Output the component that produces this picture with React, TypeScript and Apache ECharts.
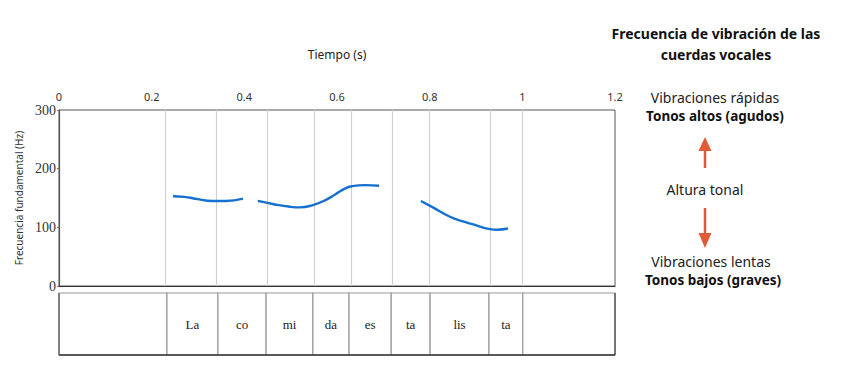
import React, { useEffect, useRef } from "react";
import * as echarts from "echarts";

// Time (s) of the syllable boundaries and syllables between them
const boundaries = [0.233, 0.343, 0.447, 0.548, 0.626, 0.717, 0.801, 0.928, 1.001];
const syllables = ["La", "co", "mi", "da", "es", "ta", "lis", "ta"];

// Fundamental frequency contour (time s, Hz), three voiced stretches
const contour1: [number, number][] = [
  [0.246, 153], [0.27, 152], [0.30, 148], [0.33, 145], [0.36, 145], [0.397, 149],
];
const contour2: [number, number][] = [
  [0.429, 145], [0.466, 139], [0.499, 135], [0.52, 134], [0.548, 138], [0.574, 146],
  [0.596, 156], [0.617, 166], [0.632, 170], [0.66, 172], [0.691, 171],
];
const contour3: [number, number][] = [
  [0.781, 145], [0.807, 134], [0.844, 118], [0.872, 110], [0.894, 105], [0.93, 97],
  [0.945, 96], [0.969, 98],
];

const xTicks = { min: 0, max: 1.2, interval: 0.2 };
const yTicks = { min: 0, max: 300, interval: 100 };

const SANS = "Noto Sans";
const SERIF = "Liberation Serif";

export default function App() {
  const ref = useRef<HTMLDivElement>(null);

  useEffect(() => {
    if (!ref.current) return;
    const chart = echarts.init(ref.current, null, { renderer: "svg" });

    const edges = [xTicks.min, ...boundaries, xTicks.max];
    const segments = edges.slice(0, -1).map((s, i) => [s, edges[i + 1], i === 0 || i > syllables.length ? "" : syllables[i - 1]]);

    const lineStyle = { color: "#1670d0", width: 2.4 };
    const mkLine = (data: [number, number][], withMarks: boolean) => ({
      type: "line",
      data,
      smooth: true,
      showSymbol: false,
      lineStyle,
      xAxisIndex: 0,
      yAxisIndex: 0,
      z: 5,
      markLine: withMarks
        ? {
            silent: true,
            symbol: ["none", "none"],
            label: { show: false },
            lineStyle: { color: "#cfcfcf", width: 1.2, type: "solid" },
            data: boundaries.map((b) => ({ xAxis: b })),
          }
        : undefined,
    });

    const txt = (x: number, y: number, text: string, bold: boolean, size = 14) => ({
      type: "text",
      x,
      y,
      style: {
        text,
        align: "center",
        verticalAlign: "middle",
        font: `${bold ? "bold " : ""}${size}px '${SANS}'`,
        fill: bold ? "#111" : "#222",
      },
    });

    chart.setOption({
      animation: false,
      grid: [
        { left: 59, right: 234, top: 110, bottom: 93, show: true, borderColor: "#555", borderWidth: 1 },
        { left: 59, right: 234, top: 293, bottom: 24 },
      ],
      xAxis: [
        {
          type: "value",
          gridIndex: 0,
          position: "top",
          ...xTicks,
          name: "Tiempo (s)",
          nameLocation: "middle",
          nameGap: 50,
          nameTextStyle: { fontFamily: SANS, fontSize: 12, color: "#222" },
          axisLine: { show: true, lineStyle: { color: "#333", width: 1.2 } },
          axisTick: { show: false },
          splitLine: { show: false },
          axisLabel: { fontFamily: SANS, fontSize: 11, color: "#333", margin: 8 },
        },
        {
          type: "value",
          gridIndex: 1,
          ...xTicks,
          show: false,
          splitLine: { show: false },
        },
      ],
      yAxis: [
        {
          type: "value",
          gridIndex: 0,
          ...yTicks,
          name: "Frecuencia fundamental (Hz)",
          nameLocation: "middle",
          nameGap: 30,
          nameTextStyle: { fontFamily: SANS, fontSize: 10, color: "#333" },
          axisLine: { show: true, lineStyle: { color: "#555", width: 1.2 } },
          axisTick: { show: true, length: 2, lineStyle: { color: "#777" } },
          splitLine: { show: false },
          axisLabel: { fontFamily: SERIF, fontSize: 14, color: "#333", margin: 3 },
        },
        { type: "value", gridIndex: 1, min: 0, max: 1, show: false, splitLine: { show: false } },
      ],
      series: [
        mkLine(contour1, true),
        mkLine(contour2, false),
        mkLine(contour3, false),
        {
          type: "custom",
          xAxisIndex: 1,
          yAxisIndex: 1,
          data: segments,
          renderItem: (params: any, api: any) => {
            const p0 = api.coord([api.value(0), 1]);
            const p1 = api.coord([api.value(1), 0]);
            const label = segments[params.dataIndex][2] as string;
            return {
              type: "group",
              children: [
                {
                  type: "rect",
                  shape: { x: p0[0], y: p0[1], width: p1[0] - p0[0], height: p1[1] - p0[1] },
                  style: { fill: "#fff", stroke: "#9a9a9a", lineWidth: 1.2 },
                },
                {
                  type: "text",
                  style: {
                    text: label,
                    x: (p0[0] + p1[0]) / 2,
                    y: (p0[1] + p1[1]) / 2,
                    align: "center",
                    verticalAlign: "middle",
                    font: `13px '${SERIF}'`,
                    fill: "#222",
                  },
                },
              ],
            };
          },
        },
      ],
      graphic: [
        { type: "line", shape: { x1: 59, y1: 355, x2: 615, y2: 355 }, style: { stroke: "#333", lineWidth: 1.5 }, z: 20 },
        { type: "line", shape: { x1: 59, y1: 293, x2: 59, y2: 355 }, style: { stroke: "#555", lineWidth: 1.2 }, z: 20 },
        { type: "line", shape: { x1: 615, y1: 293, x2: 615, y2: 355 }, style: { stroke: "#444", lineWidth: 1.2 }, z: 20 },
        txt(716, 33, "Frecuencia de vibración de las", true),
        txt(716, 54, "cuerdas vocales", true),
        txt(715, 97, "Vibraciones rápidas", false),
        txt(715, 116, "Tonos altos (agudos)", true, 13.5),
        { type: "line", shape: { x1: 705, y1: 168, x2: 705, y2: 148 }, style: { stroke: "#e05a35", lineWidth: 2.5 } },
        { type: "polygon", shape: { points: [[698.5, 151], [711.5, 151], [705, 137]] }, style: { fill: "#e05a35" } },
        txt(705, 189, "Altura tonal", false),
        { type: "line", shape: { x1: 705, y1: 208, x2: 705, y2: 236 }, style: { stroke: "#e05a35", lineWidth: 2.5 } },
        { type: "polygon", shape: { points: [[698.5, 233], [711.5, 233], [705, 248]] }, style: { fill: "#e05a35" } },
        txt(711, 261, "Vibraciones lentas", false),
        txt(713, 280, "Tonos bajos (graves)", true, 13.5),
      ],
    });

    return () => chart.dispose();
  }, []);

  return <div ref={ref} style={{ position: "absolute", left: 0, top: 0, width: 849, height: 379, background: "#fff" }} />;
}
